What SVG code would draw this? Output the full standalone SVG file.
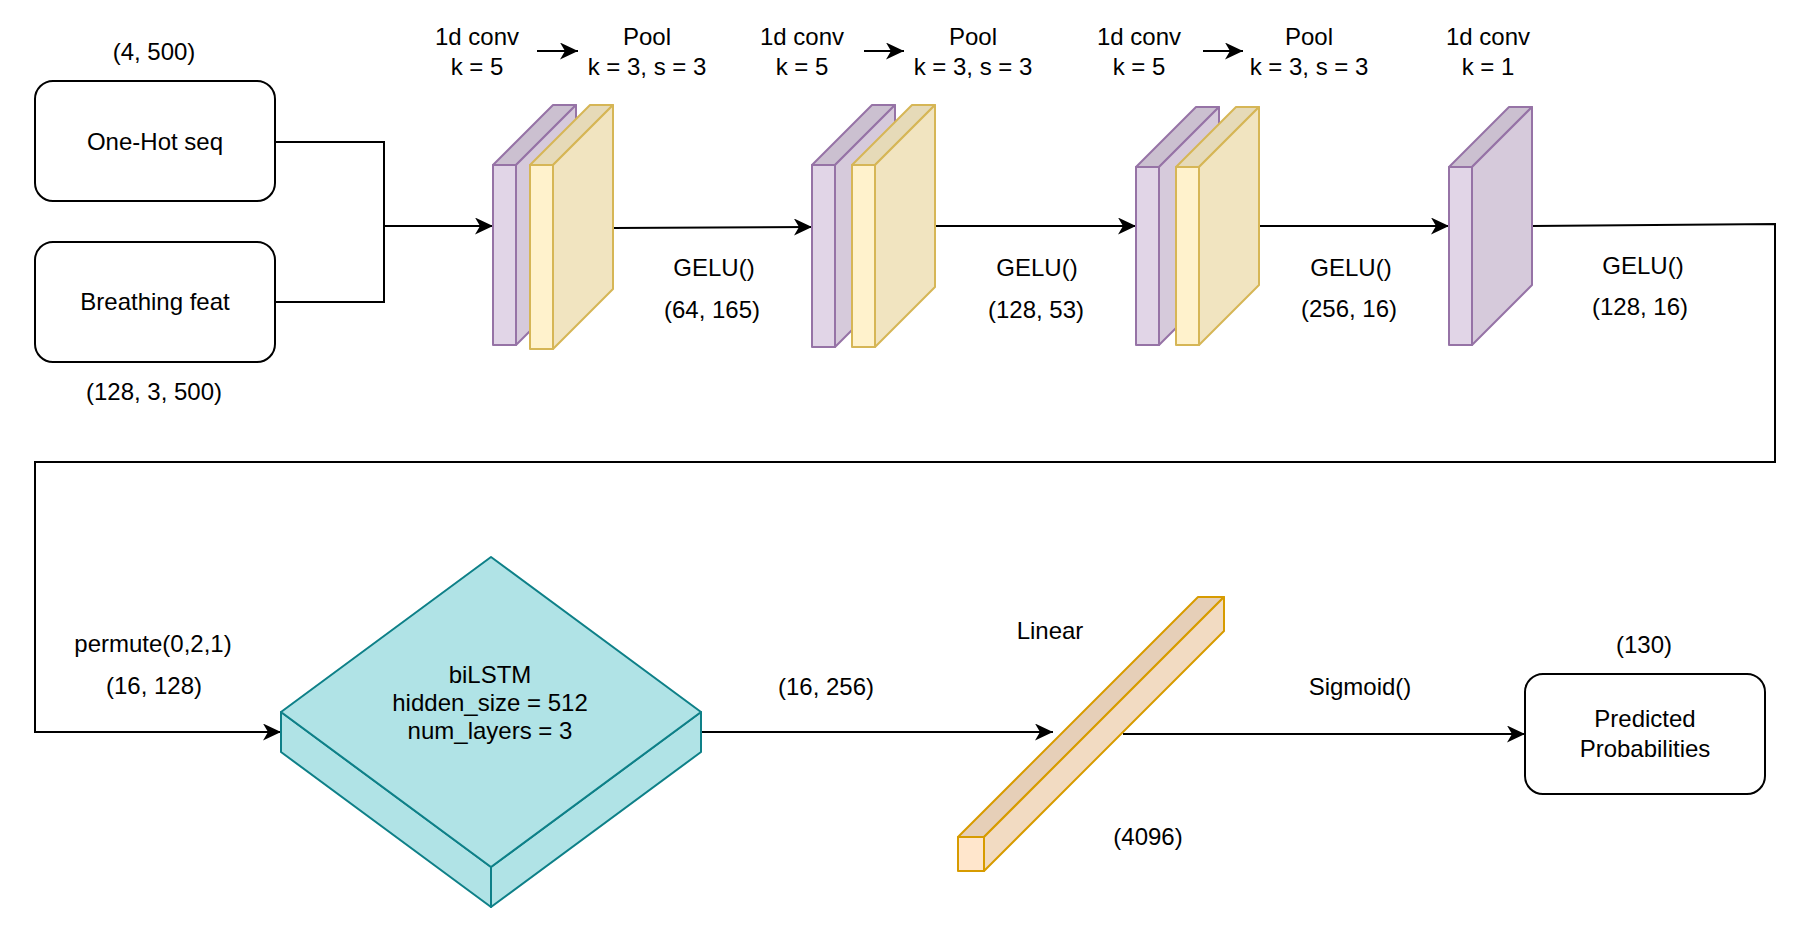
<svg xmlns="http://www.w3.org/2000/svg" width="1812" height="930" viewBox="0 0 1812 930">
<defs>
<style>
text{font-family:"Liberation Sans",Arial,Helvetica,sans-serif;font-size:24px;fill:#000;text-anchor:middle}
.box{fill:#fff;stroke:#000;stroke-width:2}
.edge{fill:none;stroke:#000;stroke-width:2}
.pf{fill:#e1d5e7;stroke:#9673a6;stroke-width:2;stroke-linejoin:round}
.pr{fill:#d6cadb;stroke:#9673a6;stroke-width:2;stroke-linejoin:round}
.pt{fill:#cbc0d0;stroke:#9673a6;stroke-width:2;stroke-linejoin:round}
.yf{fill:#fff2cc;stroke:#d6b656;stroke-width:2;stroke-linejoin:round}
.yr{fill:#f1e4c0;stroke:#d6b656;stroke-width:2;stroke-linejoin:round}
.yt{fill:#e6dab8;stroke:#d6b656;stroke-width:2;stroke-linejoin:round}
.of{fill:#ffe6cc;stroke:#d79b00;stroke-width:2;stroke-linejoin:round}
.or{fill:#f2dbc2;stroke:#d79b00;stroke-width:2;stroke-linejoin:round}
.ot{fill:#e6cfb8;stroke:#d79b00;stroke-width:2;stroke-linejoin:round}
.teal{fill:#b0e3e6;stroke:#0e8088;stroke-width:2;stroke-linejoin:round}
</style>
<marker id="arr" markerUnits="userSpaceOnUse" markerWidth="20" markerHeight="18" refX="18" refY="8.5" orient="auto">
<path d="M0,0 L18,8.5 L0,17 L5,8.5 Z" fill="#000"/>
</marker>
</defs>
<rect width="1812" height="930" fill="#fff"/>

<g id="connectors">
<polyline class="edge" points="275,142 384,142 384,302 275,302"/>
<line class="edge" x1="384" y1="226" x2="493" y2="226" marker-end="url(#arr)"/>
<line class="edge" x1="613" y1="228" x2="812" y2="227" marker-end="url(#arr)"/>
<line class="edge" x1="935" y1="226" x2="1136" y2="226" marker-end="url(#arr)"/>
<line class="edge" x1="1259" y1="226" x2="1449" y2="226" marker-end="url(#arr)"/>
<polyline class="edge" points="1532,226 1775,224 1775,462 35,462 35,732 281,732" marker-end="url(#arr)"/>
<line class="edge" x1="701" y1="732" x2="1053" y2="732" marker-end="url(#arr)"/>
<line class="edge" x1="1123" y1="734" x2="1525" y2="734" marker-end="url(#arr)"/>
<line class="edge" x1="537" y1="51" x2="578" y2="51" marker-end="url(#arr)"/>
<line class="edge" x1="864" y1="51" x2="904" y2="51" marker-end="url(#arr)"/>
<line class="edge" x1="1203" y1="51" x2="1243" y2="51" marker-end="url(#arr)"/>
</g>

<g id="onehot">
<rect class="box" x="35" y="81" width="240" height="120" rx="18"/>
<text x="155" y="150">One-Hot seq</text>
<text x="154" y="60">(4, 500)</text>
</g>
<g id="breathing">
<rect class="box" x="35" y="242" width="240" height="120" rx="18"/>
<text x="155" y="310">Breathing feat</text>
<text x="154" y="400">(128, 3, 500)</text>
</g>

<g id="block1">
<polygon class="pt" points="493,165 553,105 576,105 516,165"/>
<polygon class="pr" points="516,165 576,105 576,285 516,345"/>
<rect class="pf" x="493" y="165" width="23" height="180"/>
<polygon class="yt" points="530,165 590,105 613,105 553,165"/>
<polygon class="yr" points="553,165 613,105 613,289 553,349"/>
<rect class="yf" x="530" y="165" width="23" height="184"/>
<text x="477" y="45">1d conv</text>
<text x="477" y="75">k = 5</text>
<text x="647" y="45">Pool</text>
<text x="647" y="75">k = 3, s = 3</text>
<text x="714" y="276">GELU()</text>
<text x="712" y="318">(64, 165)</text>
</g>

<g id="block2">
<polygon class="pt" points="812,165 872,105 895,105 835,165"/>
<polygon class="pr" points="835,165 895,105 895,287 835,347"/>
<rect class="pf" x="812" y="165" width="23" height="182"/>
<polygon class="yt" points="852,165 912,105 935,105 875,165"/>
<polygon class="yr" points="875,165 935,105 935,287 875,347"/>
<rect class="yf" x="852" y="165" width="23" height="182"/>
<text x="802" y="45">1d conv</text>
<text x="802" y="75">k = 5</text>
<text x="973" y="45">Pool</text>
<text x="973" y="75">k = 3, s = 3</text>
<text x="1037" y="276">GELU()</text>
<text x="1036" y="318">(128, 53)</text>
</g>

<g id="block3">
<polygon class="pt" points="1136,167 1196,107 1219,107 1159,167"/>
<polygon class="pr" points="1159,167 1219,107 1219,285 1159,345"/>
<rect class="pf" x="1136" y="167" width="23" height="178"/>
<polygon class="yt" points="1176,167 1236,107 1259,107 1199,167"/>
<polygon class="yr" points="1199,167 1259,107 1259,285 1199,345"/>
<rect class="yf" x="1176" y="167" width="23" height="178"/>
<text x="1139" y="45">1d conv</text>
<text x="1139" y="75">k = 5</text>
<text x="1309" y="45">Pool</text>
<text x="1309" y="75">k = 3, s = 3</text>
<text x="1351" y="276">GELU()</text>
<text x="1349" y="317">(256, 16)</text>
</g>

<g id="block4">
<polygon class="pt" points="1449,167 1509,107 1532,107 1472,167"/>
<polygon class="pr" points="1472,167 1532,107 1532,285 1472,345"/>
<rect class="pf" x="1449" y="167" width="23" height="178"/>
<text x="1488" y="45">1d conv</text>
<text x="1488" y="75">k = 1</text>
<text x="1643" y="274">GELU()</text>
<text x="1640" y="315">(128, 16)</text>
</g>

<g id="permute-label">
<text x="153" y="652">permute(0,2,1)</text>
<text x="154" y="694">(16, 128)</text>
</g>

<g id="bilstm">
<polygon class="teal" points="281,712 491,867 491,907 281,752"/>
<polygon class="teal" points="491,867 701,712 701,752 491,907"/>
<polygon class="teal" points="491,557 701,712 491,867 281,712"/>
<text x="490" y="683">biLSTM</text>
<text x="490" y="711">hidden_size = 512</text>
<text x="490" y="739">num_layers = 3</text>
</g>

<g id="linear">
<polygon class="ot" points="958,837 1198,597 1224,597 984,837"/>
<polygon class="or" points="984,837 1224,597 1224,631 984,871"/>
<rect class="of" x="958" y="837" width="26" height="34"/>
<text x="1050" y="639">Linear</text>
<text x="826" y="695">(16, 256)</text>
<text x="1148" y="845">(4096)</text>
<text x="1360" y="695">Sigmoid()</text>
</g>

<g id="predicted">
<rect class="box" x="1525" y="674" width="240" height="120" rx="18"/>
<text x="1645" y="727">Predicted</text>
<text x="1645" y="757">Probabilities</text>
<text x="1644" y="653">(130)</text>
</g>
</svg>
